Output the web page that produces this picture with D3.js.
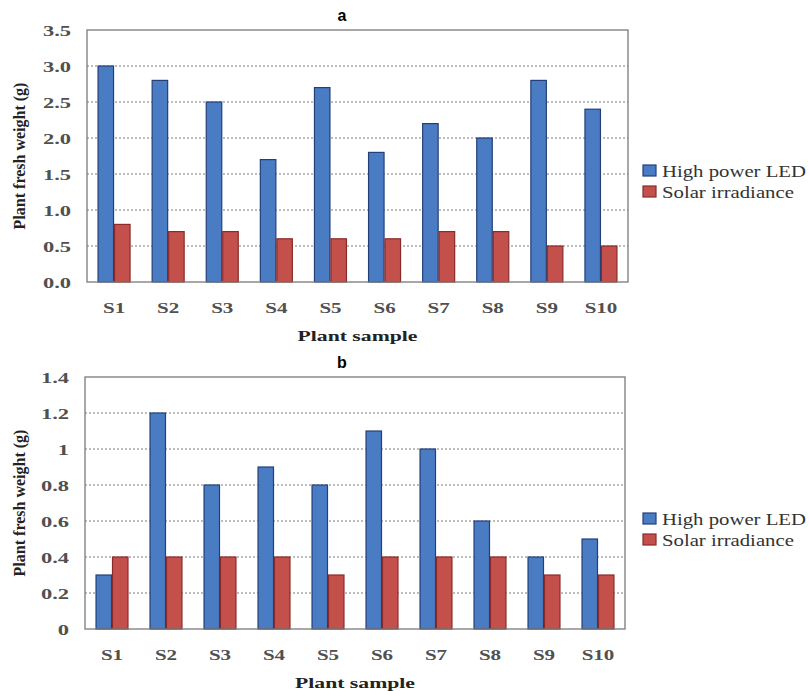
<!DOCTYPE html>
<html>
<head>
<meta charset="utf-8">
<script src="https://cdn.jsdelivr.net/npm/d3@7"></script>
<style>
  body { margin: 0; background: #fff; }
  svg { display: block; }
</style>
</head>
<body>
<div id="chart"></div>
<script>
// data
let samples = ['S1', 'S2', 'S3', 'S4', 'S5', 'S6', 'S7', 'S8', 'S9', 'S10'];
let seriesNames = ['High power LED', 'Solar irradiance'];

let ledA = [3.0, 2.8, 2.5, 1.7, 2.7, 1.8, 2.2, 2.0, 2.8, 2.4];
let solarA = [0.8, 0.7, 0.7, 0.6, 0.6, 0.6, 0.7, 0.7, 0.5, 0.5];
let ticksA = [0, 0.5, 1.0, 1.5, 2.0, 2.5, 3.0, 3.5];

let ledB = [0.3, 1.2, 0.8, 0.9, 0.8, 1.1, 1.0, 0.6, 0.4, 0.5];
let solarB = [0.4, 0.4, 0.4, 0.4, 0.3, 0.4, 0.4, 0.4, 0.3, 0.3];
let ticksB = [0, 0.2, 0.4, 0.6, 0.8, 1.0, 1.2, 1.4];

let fills = ['#4a7cc4', '#c4504c'];
let strokes = ['#243f78', '#8a2b2a'];

let serif = '"Liberation Serif", "Times New Roman", serif';

let svg = d3.select('#chart').append('svg')
  .attr('width', 809)
  .attr('height', 691);

// the picture is stretched sideways, so widen the text the same way
function stretch(sel, k) {
  sel.each(function() {
    let len = this.getComputedTextLength();
    d3.select(this)
      .attr('textLength', len * k)
      .attr('lengthAdjust', 'spacingAndGlyphs');
  });
}

function drawChart(opts) {
  let g = svg.append('g');

  let x0 = d3.scaleBand()
    .domain(samples)
    .range([opts.left, opts.right])
    .paddingInner(0.39)
    .paddingOuter(0.195);

  let x1 = d3.scaleBand()
    .domain(seriesNames)
    .range([0, x0.bandwidth()]);

  let y = d3.scaleLinear()
    .domain([0, opts.ticks[opts.ticks.length - 1]])
    .range([opts.bottom, opts.top]);

  // dotted gridlines
  g.append('g')
    .selectAll('line')
    .data(opts.ticks.slice(1, -1))
    .enter()
    .append('line')
    .attr('x1', opts.left)
    .attr('x2', opts.right)
    .attr('y1', d => y(d))
    .attr('y2', d => y(d))
    .attr('stroke', '#7d7d7d')
    .attr('stroke-width', 1)
    .attr('stroke-dasharray', '2,2');

  // bars
  let rows = samples.map((s, i) => ({ s: s, vals: [opts.led[i], opts.solar[i]] }));
  g.append('g')
    .selectAll('g')
    .data(rows)
    .enter()
    .append('g')
    .attr('transform', d => `translate(${x0(d.s)},0)`)
    .selectAll('rect')
    .data(d => d.vals.map((v, k) => ({ k: k, v: v })))
    .enter()
    .append('rect')
    .attr('x', d => x1(seriesNames[d.k]) + 0.5)
    .attr('y', d => y(d.v))
    .attr('width', x1.bandwidth() - 1)
    .attr('height', d => y(0) - y(d.v))
    .attr('fill', d => fills[d.k])
    .attr('stroke', d => strokes[d.k])
    .attr('stroke-width', 1.2);

  // frame
  g.append('rect')
    .attr('x', opts.left)
    .attr('y', opts.top)
    .attr('width', opts.right - opts.left)
    .attr('height', opts.bottom - opts.top)
    .attr('fill', 'none')
    .attr('stroke', '#7a7a7a')
    .attr('stroke-width', 1.3);

  // y axis
  let yAxis = g.append('g')
    .attr('transform', `translate(${opts.left},0)`)
    .call(d3.axisLeft(y).tickValues(opts.ticks).tickSize(0).tickPadding(16).tickFormat(opts.fmt));
  yAxis.select('.domain').remove();
  yAxis.selectAll('text')
    .style('font-family', serif)
    .style('font-weight', 'bold')
    .style('font-size', '15px')
    .attr('fill', '#505050')
    .attr('dy', '0.36em')
    .call(stretch, 1.5);

  // x axis
  let xAxis = g.append('g')
    .attr('transform', `translate(0,${opts.bottom})`)
    .call(d3.axisBottom(x0).tickSize(0).tickPadding(20));
  xAxis.select('.domain').remove();
  xAxis.selectAll('text')
    .style('font-family', serif)
    .style('font-weight', 'bold')
    .style('font-size', '15px')
    .attr('fill', '#505050')
    .call(stretch, 1.4);

  // axis titles
  g.append('text')
    .attr('x', (opts.left + opts.right) / 2)
    .attr('y', opts.bottom + 59)
    .attr('text-anchor', 'middle')
    .style('font-family', serif)
    .style('font-weight', 'bold')
    .style('font-size', '14px')
    .attr('fill', '#222')
    .text('Plant sample')
    .call(stretch, 1.55);

  g.append('text')
    .attr('transform', `translate(25,${(opts.top + opts.bottom) / 2}) rotate(-90)`)
    .attr('text-anchor', 'middle')
    .style('font-family', serif)
    .style('font-weight', 'bold')
    .style('font-size', '16px')
    .attr('fill', '#222')
    .text('Plant fresh weight (g)');

  // panel letter
  g.append('text')
    .attr('x', 342)
    .attr('y', opts.top - 9)
    .attr('text-anchor', 'middle')
    .style('font-family', '"Liberation Sans", Arial, sans-serif')
    .style('font-weight', 'bold')
    .style('font-size', '16px')
    .attr('fill', '#000')
    .text(opts.letter);

  // legend
  let legend = g.append('g')
    .attr('transform', `translate(643,${opts.legendTop})`);
  seriesNames.forEach((name, k) => {
    legend.append('rect')
      .attr('x', 0)
      .attr('y', k * 21)
      .attr('width', 13)
      .attr('height', 11)
      .attr('fill', fills[k])
      .attr('stroke', strokes[k])
      .attr('stroke-width', 1.2);
    legend.append('text')
      .attr('x', 19)
      .attr('y', k * 21 + 12)
      .style('font-family', serif)
      .style('font-size', '17px')
      .attr('fill', '#333')
      .text(name)
      .call(stretch, 1.22);
  });
}

drawChart({
  letter: 'a', left: 87, right: 628, top: 30, bottom: 282,
  led: ledA, solar: solarA, ticks: ticksA,
  fmt: d3.format('.1f'), legendTop: 165
});

drawChart({
  letter: 'b', left: 85, right: 625, top: 377, bottom: 629,
  led: ledB, solar: solarB, ticks: ticksB,
  fmt: d => String(+d.toFixed(1)), legendTop: 513
});
</script>
</body>
</html>
